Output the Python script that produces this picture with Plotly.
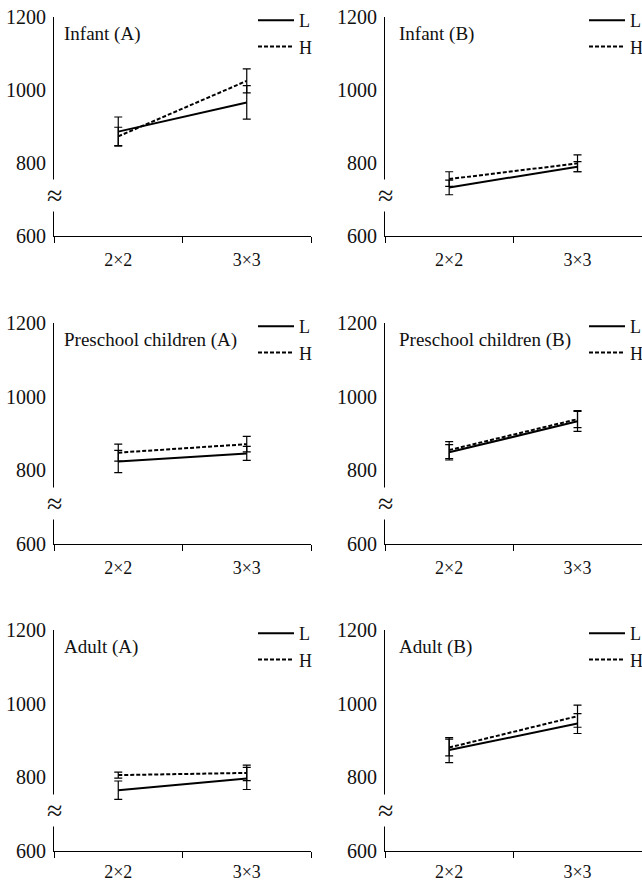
import plotly.graph_objects as go

# Matrix sizes on the x axis
categories = ["2×2", "3×3"]

# Panel titles, in reading order (row by row, left then right)
titles = ["Infant (A)", "Infant (B)",
          "Preschool children (A)", "Preschool children (B)",
          "Adult (A)", "Adult (B)"]

# Mean values for the L and H conditions, one [2×2, 3×3] pair per panel
L_means = [[886, 966], [733, 790], [824, 846], [849, 933], [765, 797], [874, 946]]
H_means = [[873, 1025], [756, 799], [848, 871], [855, 939], [806, 812], [881, 966]]

# Error bar half-lengths
L_err = [[40, 46], [20, 14], [30, 19], [21, 27], [25, 30], [34, 27]]
H_err = [[25, 33], [20, 23], [23, 21], [23, 23], [8, 21], [23, 30]]

y_ticks = [600, 800, 1000, 1200]

W, H = 642, 883
FONT = "Liberation Serif, Times New Roman, serif"

# pixel geometry of the panels
col_left = [54, 385]
col_width = 257
row_top = [17, 323, 630]      # pixel y of the 1200 line
row_bottom = [236, 544, 851]  # pixel y of the 600 line
label_gap = [7, 7, 4]         # x tick label standoff per row

fig = go.Figure()
layout = dict(
    width=W, height=H,
    margin=dict(l=0, r=0, t=0, b=0, autoexpand=False),
    paper_bgcolor="white", plot_bgcolor="white",
    font=dict(family=FONT, color="#111111"),
    annotations=[],
)

for i in range(6):
    r, c = divmod(i, 2)
    sfx = "" if i == 0 else str(i + 1)
    x0 = col_left[c] / W
    x1 = min((col_left[c] + col_width) / W, 0.9995)
    y1 = 1 - row_top[r] / H
    y0 = 1 - row_bottom[r] / H
    leg = "legend" + sfx

    layout["xaxis" + sfx] = dict(
        domain=[x0, x1], anchor="y" + sfx, type="category",
        range=[-0.5, 1.5], showgrid=False, zeroline=False,
        showline=True, linecolor="black", linewidth=1,
        ticks="outside", tickson="boundaries", ticklen=6,
        tickcolor="black", tickwidth=1,
        tickfont=dict(family=FONT, size=18, color="#111111"),
        ticklabelstandoff=label_gap[r], automargin=False, fixedrange=True,
    )
    layout["yaxis" + sfx] = dict(
        domain=[y0, y1], anchor="x" + sfx, range=[600, 1200],
        tickvals=y_ticks, showgrid=False, zeroline=False,
        showline=True, linecolor="black", linewidth=1, ticks="",
        tickfont=dict(family=FONT, size=20, color="#111111"),
        ticklabelstandoff=3, automargin=False, fixedrange=True,
    )

    common = dict(x=categories, mode="lines", xaxis="x" + sfx,
                  yaxis="y" + sfx, legend=leg, showlegend=True,
                  hoverinfo="skip")
    fig.add_trace(go.Scatter(
        y=L_means[i], name="L",
        line=dict(color="black", width=2),
        error_y=dict(type="data", array=L_err[i], width=4,
                     thickness=1.2, color="black"),
        **common))
    fig.add_trace(go.Scatter(
        y=H_means[i], name="H",
        line=dict(color="black", width=2, dash="4px,2px"),
        error_y=dict(type="data", array=H_err[i], width=4,
                     thickness=1.2, color="black"),
        **common))

    # legend box in the upper right of each panel
    lx = (col_left[c] + 199) / W
    ly = 1 - (row_top[r] - 15) / H
    layout[leg] = dict(
        x=lx, y=ly, xanchor="left", yanchor="top",
        bgcolor="rgba(0,0,0,0)", borderwidth=0,
        font=dict(family=FONT, size=18, color="#111111"),
        itemwidth=36, tracegroupgap=0, traceorder="normal",
        itemclick=False, itemdoubleclick=False,
    )

    # panel title
    layout["annotations"].append(dict(
        text=titles[i], xref=f"x{sfx} domain", yref=f"y{sfx} domain",
        x=0, y=1, xanchor="left", yanchor="middle",
        xshift=8 if c == 0 else 12, yshift=-17,
        showarrow=False,
        font=dict(family=FONT, size=19, color="#111111"),
    ))
    # axis break mark
    layout["annotations"].append(dict(
        text="≈", xref=f"x{sfx} domain", yref="y" + sfx,
        x=0, y=710, xanchor="center", yanchor="middle",
        showarrow=False, bgcolor="white", borderpad=0,
        font=dict(family=FONT, size=28, color="#111111"),
    ))

fig.update_layout(**layout)
fig.write_html("out.html")
